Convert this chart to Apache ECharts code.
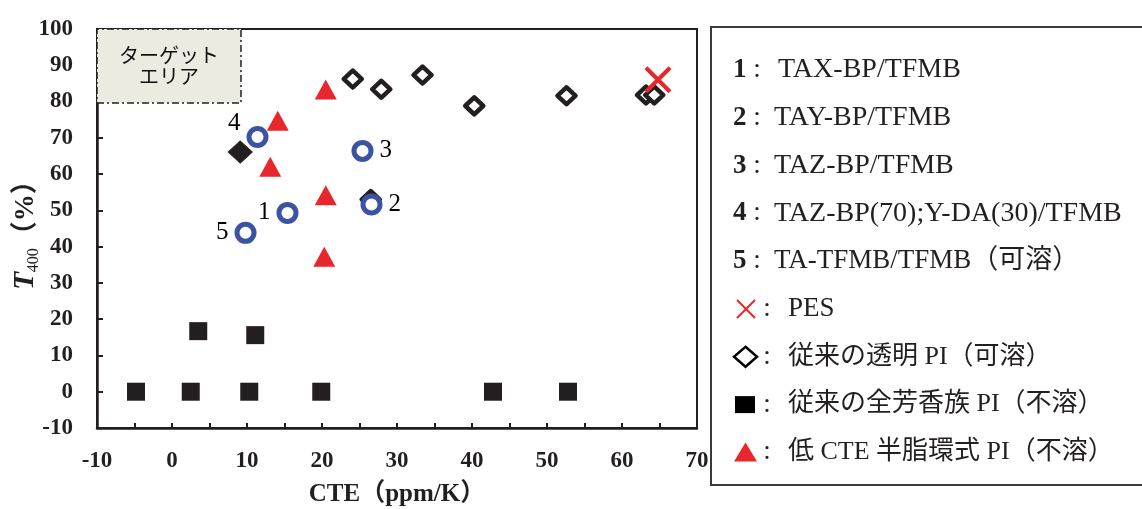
<!DOCTYPE html>
<html><head><meta charset="utf-8">
<script src="https://cdn.jsdelivr.net/npm/echarts@6/dist/echarts.min.js"></script>
<style>html,body{margin:0;padding:0;background:#fff}#c{width:1142px;height:509px}</style>
</head><body><div id="c"></div>
<script>
// ---- data ----
const pointNumbers = ['1', '2', '3', '4', '5'];
const newPI = [[15.4, 49.3], [26.6, 51.6], [25.4, 66.4], [11.4, 70.2], [9.8, 43.8]];
const pes = [[64.8, 86.0]];
const transparentPI = [[24.1, 86.2], [27.9, 83.4], [33.4, 87.3], [40.3, 78.8], [52.6, 81.6], [63.2, 81.8], [64.3, 81.8], [26.5, 53.0]];
const transparentPIFilled = [[9.1, 66.1]];
const aromaticPI = [[-4.8, 0], [2.5, 0], [3.5, 16.7], [10.3, 0], [11.1, 15.6], [19.9, 0], [42.8, 0], [52.8, 0]];
const semiAlicyclicPI = [[20.5, 83.3], [14.1, 74.7], [13.1, 62.0], [20.5, 54.2], [20.3, 37.2]];
const targetArea = [[-10, 79.6], [9.2, 100]];
const targetLabel = 'ターゲット\nエリア';
const xAxisRange = [-10, 70];
const yAxisRange = [-10, 100];
const legendNumbered = [['1', 'TAX-BP/TFMB'], ['2', 'TAY-BP/TFMB'], ['3', 'TAZ-BP/TFMB'], ['4', 'TAZ-BP(70);Y-DA(30)/TFMB'], ['5', 'TA-TFMB/TFMB（可溶）']];
const legendSymbolTexts = ['PES', '従来の透明 PI（可溶）', '従来の全芳香族 PI（不溶）', '低 CTE 半脂環式 PI（不溶）'];
const xName = 'CTE（ppm/K）';

// ---- style ----
const INK = '#231f20';
const BLUE = '#3c53a4';
const RED = '#e8262b';
const SERIF = '"Liberation Serif","Noto Sans CJK JP",serif';
const numLabelPos = [
  {position: 'left', offset: [0, 0]},
  {position: 'right', offset: [0, 0]},
  {position: 'right', offset: [0, 0]},
  {position: 'left', offset: [0, -14]},
  {position: 'left', offset: [0, 0]}
];

const chart = echarts.init(document.getElementById('c'), null, {renderer: 'canvas'});

const graphics = [];
graphics.push({type: 'rect', shape: {x: 711, y: 27, width: 440, height: 458}, style: {fill: 'none', stroke: '#3a3a3a', lineWidth: 2}, z: 10});
const rowY = i => 70 + 47.8 * i;
legendNumbered.forEach((r, i) => {
  graphics.push({type: 'text', x: 733, y: rowY(i), style: {text: r[0], font: 'bold 27px ' + SERIF, fill: INK, verticalAlign: 'middle', align: 'left'}, z: 10});
  graphics.push({type: 'text', x: 757, y: rowY(i), style: {text: ':', font: '27px ' + SERIF, fill: INK, verticalAlign: 'middle', align: 'center'}, z: 10});
  graphics.push({type: 'text', x: i === 0 ? 778 : 774, y: rowY(i), style: {text: r[1], font: (i === 4 ? '27px ' : '28px ') + SERIF, fill: INK, verticalAlign: 'middle', align: 'left'}, z: 10});
});
legendSymbolTexts.forEach((t, j) => {
  const y = rowY(5 + j);
  graphics.push({type: 'text', x: 767, y: y, style: {text: ':', font: '27px ' + SERIF, fill: INK, verticalAlign: 'middle', align: 'center'}, z: 10});
  graphics.push({type: 'text', x: 788, y: y, style: {text: t, font: (j === 0 ? '27px ' : '26px ') + SERIF, fill: INK, verticalAlign: 'middle', align: 'left'}, z: 10});
});
// legend symbols
const sy = rowY(5);
graphics.push({type: 'line', shape: {x1: 737, y1: sy - 9, x2: 755, y2: sy + 9}, style: {stroke: RED, lineWidth: 2}, z: 10});
graphics.push({type: 'line', shape: {x1: 755, y1: sy - 9, x2: 737, y2: sy + 9}, style: {stroke: RED, lineWidth: 2}, z: 10});
const dy = rowY(6);
graphics.push({type: 'polygon', shape: {points: [[745.5, dy - 10], [757, dy], [745.5, dy + 10], [734, dy]]}, style: {fill: 'none', stroke: '#000', lineWidth: 2.5}, z: 10});
const qy = rowY(7);
graphics.push({type: 'rect', shape: {x: 735, y: qy - 8.5, width: 20, height: 17}, style: {fill: '#000'}, z: 10});
const ty = rowY(8);
graphics.push({type: 'polygon', shape: {points: [[745.5, ty - 10], [757, ty + 9], [734, ty + 9]]}, style: {fill: RED}, z: 10});

const option = {
  animation: false,
  backgroundColor: '#fff',
  grid: {left: 97, right: 445, top: 29, bottom: 81, show: true, borderColor: INK, borderWidth: 2,
    backgroundColor: 'transparent', containLabel: false, outerBoundsMode: 'none'},
  xAxis: {
    type: 'value', min: xAxisRange[0], max: xAxisRange[1], interval: 5,
    name: xName, nameLocation: 'middle', nameGap: 54, nameMoveOverlap: false,
    nameTextStyle: {fontFamily: SERIF, fontSize: 25, fontWeight: 'bold', color: INK},
    axisLine: {show: true, onZero: false, lineStyle: {color: INK, width: 2.5}},
    axisTick: {show: true, inside: true, length: 5, lineStyle: {color: INK, width: 2}},
    axisLabel: {fontFamily: SERIF, fontSize: 23, fontWeight: 'bold', color: INK, margin: 22,
      formatter: v => (Math.round(v) % 10 === 0 ? String(v) : '')},
    splitLine: {show: false}
  },
  yAxis: {
    type: 'value', min: yAxisRange[0], max: yAxisRange[1], interval: 10,
    name: '{t|T}{s|400}{p|（%）}', nameLocation: 'middle', nameGap: 55, nameRotate: 90, nameMoveOverlap: false,
    nameTextStyle: {
      color: INK,
      rich: {
        t: {fontFamily: SERIF, fontSize: 29, fontWeight: 'bold', fontStyle: 'italic', color: INK, lineHeight: 32},
        s: {fontFamily: SERIF, fontSize: 16, color: INK, verticalAlign: 'bottom', lineHeight: 17},
        p: {fontFamily: SERIF, fontSize: 27, fontWeight: 'bold', color: INK, lineHeight: 32}
      }
    },
    axisLine: {show: true, onZero: false, lineStyle: {color: INK, width: 2.5}},
    axisTick: {show: true, inside: true, length: 6, lineStyle: {color: INK, width: 2}},
    axisLabel: {fontFamily: SERIF, fontSize: 23, fontWeight: 'bold', color: INK, margin: 24},
    splitLine: {show: false}
  },
  series: [
    {
      type: 'scatter', data: [], silent: true,
      markArea: {
        silent: true,
        itemStyle: {color: '#ecebe2', borderColor: INK, borderWidth: 1.5, borderType: [7, 3, 2, 3]},
        label: {show: true, position: 'inside', formatter: targetLabel, fontFamily: '"Noto Sans CJK JP",sans-serif', fontSize: 20, lineHeight: 21, color: '#111'},
        data: [[{coord: targetArea[0]}, {coord: targetArea[1]}]]
      }
    },
    {type: 'scatter', name: 'aromatic', data: aromaticPI, symbol: 'rect', symbolSize: 18, itemStyle: {color: INK, opacity: 1}},
    {type: 'scatter', name: 'semi', data: semiAlicyclicPI, symbol: 'triangle', symbolSize: [22, 20], itemStyle: {color: RED, opacity: 1}},
    {type: 'scatter', name: 'transparent', data: transparentPI, symbol: 'diamond', symbolSize: [18, 17],
      itemStyle: {color: '#fff', borderColor: INK, borderWidth: 4.5, borderJoin: 'round', opacity: 1}},
    {type: 'scatter', name: 'transparentFilled', data: transparentPIFilled, symbol: 'diamond', symbolSize: [24, 22],
      itemStyle: {color: INK, borderColor: INK, borderWidth: 1, opacity: 1}},
    {type: 'scatter', name: 'new', symbol: 'circle', symbolSize: 17,
      itemStyle: {color: '#fff', borderColor: BLUE, borderWidth: 5, opacity: 1},
      data: newPI.map((p, i) => ({value: p, name: pointNumbers[i],
        label: {show: true, formatter: pointNumbers[i], position: numLabelPos[i].position, offset: numLabelPos[i].offset,
          distance: 6, fontFamily: SERIF, fontSize: 25, color: '#000'}}))},
    {type: 'scatter', name: 'PES', data: pes, symbol: 'path://M0,0L10,10M10,0L0,10', symbolSize: 24,
      itemStyle: {color: 'none', borderColor: RED, borderWidth: 4, opacity: 1}}
  ],
  graphic: graphics
};
chart.setOption(option);
</script></body></html>
